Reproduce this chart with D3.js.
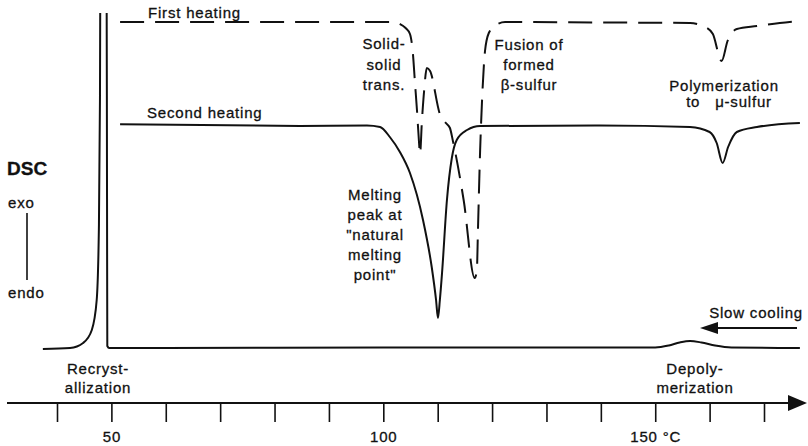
<!DOCTYPE html>
<html>
<head>
<meta charset="utf-8">
<script src="https://cdn.jsdelivr.net/npm/d3@7"></script>
<style>
  html, body { margin: 0; padding: 0; background: #fff; }
  svg { display: block; }
  .lbl { font-family: "Liberation Sans", Arial, sans-serif; font-size: 15px; letter-spacing: 0.8px; fill: #111; stroke: #111; stroke-width: 0.3px; }
  .curve { fill: none; stroke: #111; stroke-width: 2px; stroke-linejoin: round; }
  .tick text { font-family: "Liberation Sans", Arial, sans-serif; font-size: 15px; letter-spacing: 0.8px; fill: #111; stroke: #111; stroke-width: 0.3px; }
  .tick line { stroke: #111; stroke-width: 1.6px; }
</style>
</head>
<body>
<svg id="chart"></svg>
<script>
// temperature (°C) and DSC signal (arbitrary units, exo up)
const coolingT = [37.4, 42.4, 44.8, 46.4, 47.3, 47.7, 47.9, 48.0, 48.6, 49.1, 49.2, 49.25, 49.6, 60, 100, 150, 152.5, 154.5, 156.4, 158.5, 161, 164, 176.6];
const coolingS = [0, 1, 6, 19, 49, 120, 250, 420, 450, 420, 150, 3, 1, 1, 1.5, 1.5, 3.5, 6.5, 8, 6.5, 3.5, 1.5, 1];

const heat2T = [51.6, 84.7, 97.0, 99.4, 101.2, 103.05, 104.9, 107.3, 108.9, 109.7, 110.05, 110.4, 110.8, 111.7, 112.6, 113.5, 115.4, 117.8, 139.8, 156.4, 160.0, 161.3, 162.4, 163.4, 165.0, 168.7, 176.6];
const heat2S = [0.7, -1, -0.5, -2, -12, -27, -48, -95, -142, -175, -193, -175, -148, -75, -33, -15, -5, -1, -0.5, -2, -7, -18, -38, -22, -7, -2, 2];

const heat1T = [51.6, 80, 101.8, 103.05, 104.1, 104.9, 105.45, 105.8, 106.2, 106.55, 106.75, 107.1, 107.5, 108.0, 108.6, 110.4, 111.5, 112.25, 112.8, 114.8, 116.8, 117.2, 117.4, 117.8, 118.15, 118.7, 119.4, 120.7, 122.4, 139.8, 156.4, 159.5, 160.6, 162.2, 163.3, 165.0, 168.7, 172.9, 176.6];
const heat1S = [0, 0, 0, -2, -6, -12, -32, -59, -89, -119, -132, -99, -69, -46, -49, -92, -101, -106, -119, -179, -256, -249, -209, -129, -79, -29, -11, -3, 0, -0.5, -1, -6, -12, -39, -19, -7, -4, -1, 1];

// vertical offsets of the three stacked traces (signal units)
const curveNames = ['cooling', 'second', 'first'];
const curveOffsets = [0, 224, 327];

const tickTemps = [40, 50, 60, 70, 80, 90, 100, 110, 120, 130, 140, 150, 160, 170];
const tickLabelTemps = [50, 100, 150];
const tickLabelText = ['50', '100', '150 °C'];

const width = 808, height = 446;

const svg = d3.select('#chart')
    .attr('width', width)
    .attr('height', height);

const x = d3.scaleLinear().domain([40, 170]).range([57, 764]);
const y = d3.scaleLinear().domain([0, 340]).range([349, 9]);

const zip = (ts, ss, off) => ts.map((t, i) => ({t: t, s: ss[i] + off}));
const series = [
    {name: curveNames[0], pts: zip(coolingT, coolingS, curveOffsets[0]), dash: null},
    {name: curveNames[1], pts: zip(heat2T, heat2S, curveOffsets[1]), dash: null},
    {name: curveNames[2], pts: zip(heat1T, heat1S, curveOffsets[2]), dash: '24,11'}
];

// the recrystallization peak runs off the top of the frame
svg.append('clipPath').attr('id', 'plotClip')
  .append('rect')
    .attr('x', 0).attr('y', y(336))
    .attr('width', width).attr('height', height);

const line = d3.line()
    .x(d => x(d.t))
    .y(d => y(d.s))
    .curve(d3.curveMonotoneX);

svg.append('g')
    .attr('clip-path', 'url(#plotClip)')
  .selectAll('path')
  .data(series)
  .join('path')
    .attr('class', 'curve')
    .attr('stroke-dasharray', d => d.dash)
    .attr('d', d => line(d.pts));

// temperature axis with arrow
const axisY = 403;
const axisG = svg.append('g')
    .attr('transform', `translate(0,${axisY})`);
axisG.append('line')
    .attr('x1', 7).attr('x2', width - 20)
    .attr('y1', 0).attr('y2', 0)
    .style('stroke', '#111').style('stroke-width', '2px');
axisG.append('path')
    .attr('d', `M ${width - 20} -8 L ${width - 1} 0 L ${width - 20} 8 Z`)
    .style('fill', '#111');
axisG.append('g')
    .call(d3.axisBottom(x)
        .tickValues(tickTemps)
        .tickSize(19)
        .tickPadding(9)
        .tickFormat(t => {
            const k = tickLabelTemps.indexOf(t);
            return k < 0 ? '' : tickLabelText[k];
        }))
    .call(g => g.select('.domain').remove());

// annotations
function label(lines, cx, y0, step, anchor) {
    const t = svg.append('text')
        .attr('class', 'lbl')
        .attr('text-anchor', anchor || 'middle')
        .style('white-space', 'pre');
    lines.forEach((s, i) => {
        t.append('tspan').attr('x', cx).attr('y', y0 + i * step).text(s);
    });
    return t;
}

label(['First heating'], 148, 18, 0, 'start');
label(['Second heating'], 147, 118, 0, 'start');
label(['Solid-', 'solid', 'trans.'], 384, 49, 20.5);
label(['Fusion of', 'formed', 'β-sulfur'], 529, 50, 20);
label(['Melting', 'peak at', '"natural', 'melting', 'point"'], 375, 200, 20);
label(['Polymerization'], 724, 91, 0);
label(['to   μ-sulfur'], 729, 107, 0);
label(['Recryst-', 'allization'], 98, 374, 18.5);
label(['Depoly-', 'merization'], 695, 374, 18.5);
label(['Slow cooling'], 803, 318, 0, 'end');

// cooling direction arrow
svg.append('line')
    .attr('x1', 714).attr('x2', 797)
    .attr('y1', 328).attr('y2', 328)
    .style('stroke', '#111').style('stroke-width', '2px');
svg.append('path')
    .attr('d', 'M 700 328 L 718 322 L 718 334 Z')
    .style('fill', '#111');

// DSC legend at left
svg.append('text')
    .attr('class', 'lbl')
    .attr('x', 7).attr('y', 175)
    .style('font-size', '19px').style('font-weight', 'bold').style('letter-spacing', '0px')
    .text('DSC');
label(['exo'], 8, 208, 0, 'start');
svg.append('line')
    .attr('x1', 27).attr('x2', 27)
    .attr('y1', 213).attr('y2', 280)
    .style('stroke', '#111').style('stroke-width', '1.6px');
label(['endo'], 8, 298, 0, 'start');
</script>
</body>
</html>
